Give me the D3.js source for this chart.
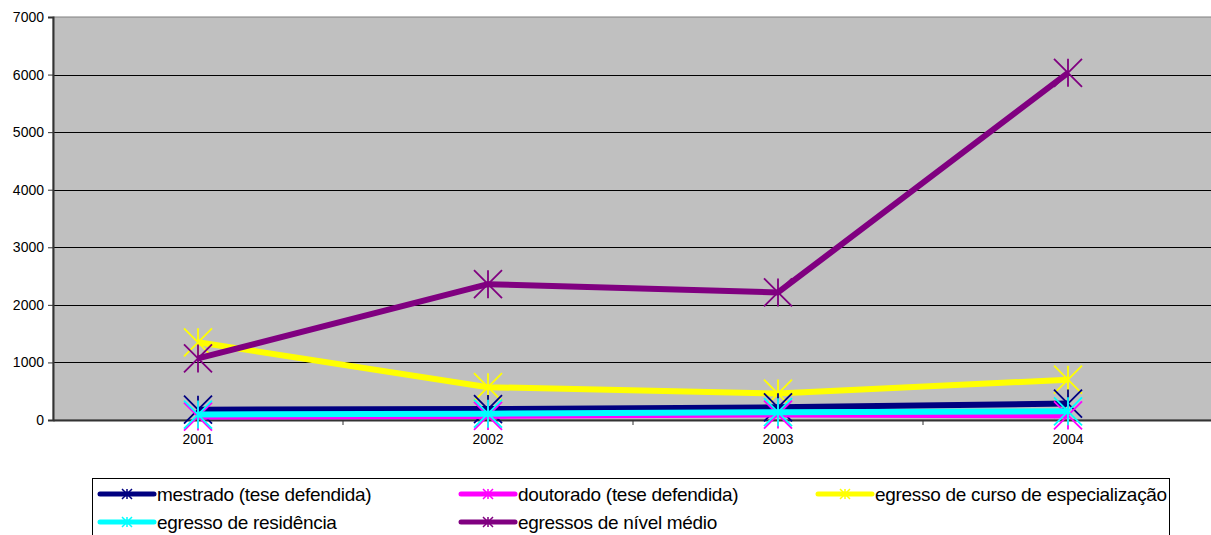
<!DOCTYPE html>
<html lang="pt">
<head>
<meta charset="UTF-8">
<title>Egressos</title>
<script src="https://cdn.jsdelivr.net/npm/d3@7"></script>
<style>
  body { margin: 0; background: #fff; }
  text { font-family: "Liberation Sans", Arial, sans-serif; fill: #000; }
</style>
</head>
<body>
<svg id="chart"></svg>
<script>
// anos (categorias)
var years = ["2001", "2002", "2003", "2004"];
var yTicks = [0, 1000, 2000, 3000, 4000, 5000, 6000, 7000];

// séries
var mestrado = [180, 190, 220, 285];
var doutorado = [60, 70, 95, 80];
var especializacao = [1350, 570, 460, 700];
var residencia = [95, 110, 135, 150];
var nivelMedio = [1070, 2360, 2215, 6030];

var seriesNames = ["mestrado (tese defendida)", "doutorado (tese defendida)",
  "egresso de curso de especialização", "egresso de residência", "egressos de nível médio"];
var seriesColors = ["#000080", "#FF00FF", "#FFFF00", "#00FFFF", "#800080"];
var seriesValues = [mestrado, doutorado, especializacao, residencia, nivelMedio];
// ordem de desenho (última por cima)
var drawOrder = [2, 4, 0, 1, 3];

var W = 1211, H = 535;
var svg = d3.select("#chart").attr("width", W).attr("height", H);

var plot = { left: 53, top: 17, right: 1213, bottom: 420 };

var x = d3.scaleBand().domain(years).range([plot.left, plot.right]);
var y = d3.scaleLinear().domain([0, 7000]).range([plot.bottom, plot.top]);

// fundo
svg.append("rect")
  .attr("x", plot.left).attr("y", plot.top)
  .attr("width", plot.right - plot.left).attr("height", plot.bottom - plot.top)
  .attr("fill", "#C0C0C0")
  .attr("stroke", "#808080").attr("stroke-width", 1);

// linhas de grade
svg.append("g").selectAll("line")
  .data(yTicks.filter(function(d) { return d > 0 && d < 7000; }))
  .enter().append("line")
  .attr("x1", plot.left).attr("x2", plot.right)
  .attr("y1", function(d) { return Math.round(y(d)) + 0.5; })
  .attr("y2", function(d) { return Math.round(y(d)) + 0.5; })
  .attr("stroke", "#000").attr("stroke-width", 1);

// eixo y
var yAxis = svg.append("g")
  .attr("transform", "translate(" + plot.left + ",0)")
  .call(d3.axisLeft(y).tickValues(yTicks).tickSize(5).tickPadding(4).tickFormat(d3.format("d")));
yAxis.select(".domain").attr("stroke", "#333").attr("stroke-width", 2);
yAxis.selectAll(".tick line").attr("stroke", "#333");
yAxis.selectAll("text").style("font-size", "14px").style("font-family", "Liberation Sans, Arial, sans-serif").attr("fill", "#000");

// eixo x
var xAxis = svg.append("g")
  .attr("transform", "translate(0," + plot.bottom + ")")
  .call(d3.axisBottom(x).tickSize(0).tickPadding(14));
xAxis.select(".domain").attr("stroke", "#333").attr("stroke-width", 2);
xAxis.selectAll("text").style("font-size", "14px").style("font-family", "Liberation Sans, Arial, sans-serif").attr("fill", "#000");
// marcas entre as categorias
svg.append("g").selectAll("line")
  .data(years.slice(1))
  .enter().append("line")
  .attr("x1", function(d) { return x(d); })
  .attr("x2", function(d) { return x(d); })
  .attr("y1", plot.bottom).attr("y2", plot.bottom + 5)
  .attr("stroke", "#333");

function starPath(s) {
  return "M0," + (-s) + "L0," + s +
    "M" + (-s) + "," + (-s) + "L" + s + "," + s +
    "M" + (-s) + "," + s + "L" + s + "," + (-s);
}

var line = d3.line()
  .x(function(d, i) { return x(years[i]) + x.bandwidth() / 2; })
  .y(function(d) { return y(d); });

var seriesG = svg.append("g");
drawOrder.forEach(function(k) {
  var g = seriesG.append("g");
  g.append("path")
    .datum(seriesValues[k])
    .attr("d", line)
    .attr("fill", "none")
    .attr("stroke", seriesColors[k])
    .attr("stroke-width", 6)
    .attr("stroke-linejoin", "round");
  g.selectAll(".mk")
    .data(seriesValues[k])
    .enter().append("path")
    .attr("class", "mk")
    .attr("transform", function(d, i) {
      return "translate(" + (x(years[i]) + x.bandwidth() / 2) + "," + y(d) + ")";
    })
    .attr("d", starPath(14))
    .attr("fill", "none")
    .attr("stroke", seriesColors[k])
    .attr("stroke-width", 1.8);
});

// legenda
var legend = svg.append("g");
legend.append("rect")
  .attr("x", 92.5).attr("y", 478.5)
  .attr("width", 1077).attr("height", 70)
  .attr("fill", "#fff").attr("stroke", "#000").attr("stroke-width", 1);

var legendCols = [100, 461, 818];
var legendRows = [494, 522];
seriesNames.forEach(function(name, k) {
  var lx = legendCols[k % 3], ly = legendRows[Math.floor(k / 3)];
  var item = legend.append("g").attr("transform", "translate(" + lx + "," + ly + ")");
  item.append("line")
    .attr("x1", 0).attr("x2", 54).attr("y1", 0).attr("y2", 0)
    .attr("stroke", seriesColors[k]).attr("stroke-width", 5)
    .attr("stroke-linecap", "round");
  item.append("path")
    .attr("transform", "translate(27,0)")
    .attr("d", starPath(5))
    .attr("fill", "none")
    .attr("stroke", seriesColors[k])
    .attr("stroke-width", 1.5);
  item.append("text")
    .attr("x", 57).attr("y", 0).attr("dy", "0.35em")
    .style("font-size", "19px")
    .style("letter-spacing", "-0.3px")
    .text(name);
});
</script>
</body>
</html>
